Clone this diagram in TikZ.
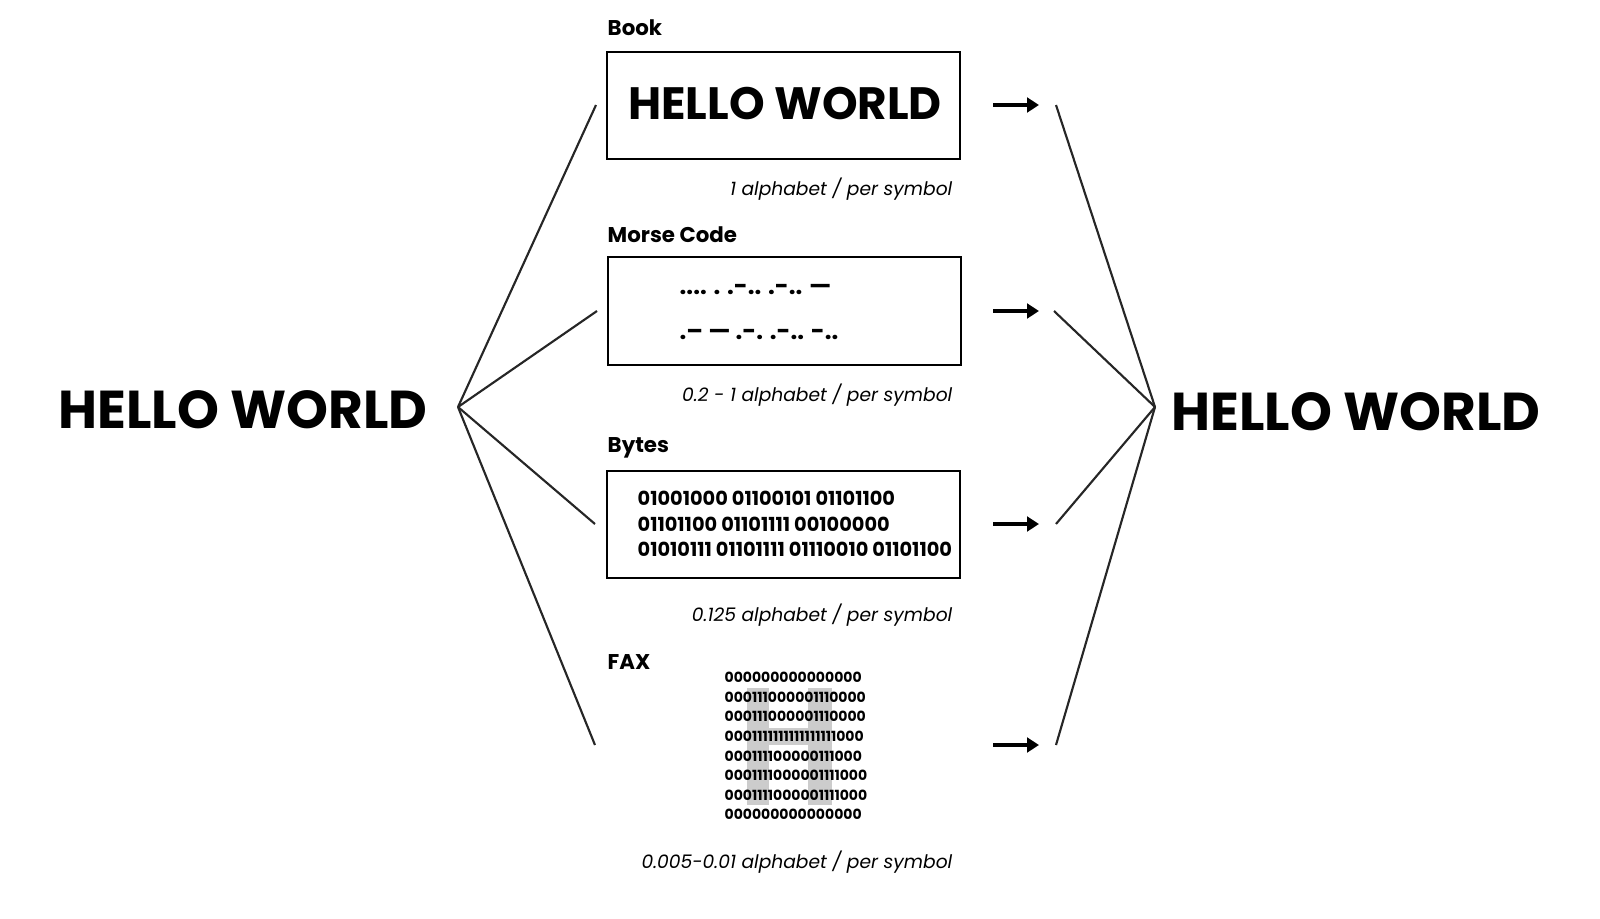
\documentclass[tikz,border=0pt]{standalone}
\usepackage{fontspec}
\setmainfont{Poppins}
\usetikzlibrary{arrows.meta}
\begin{document}
\begin{tikzpicture}[x=0.75pt,y=-0.75pt,
  box/.style={draw,line width=2.2pt},
  fan/.style={line width=1.6pt,draw=black!85},
  arr/.style={line width=3pt,-{Triangle[length=9pt,width=11pt]}},
  lab/.style={anchor=west,font=\fontsize{16}{18}\selectfont\bfseries},
  capt/.style={anchor=east,font=\fontsize{14}{16}\selectfont\itshape},
  big/.style={font=\fontsize{40}{44}\selectfont\bfseries}]
\useasboundingbox (0,0) rectangle (1600,918);
\node[big] (L) at (243,410) {HELLO WORLD};
\node[big] (R) at (1356,412) {HELLO WORLD};
\coordinate (hl) at (458,407);
\coordinate (hr) at (1155,407);
% boxes
\draw[box] (607,52) rectangle (960,159);
\node[font=\fontsize{34}{38}\selectfont\bfseries] (t1) at (785,104) {HELLO WORLD};
\draw[box] (608,257) rectangle (961,365);
\node[font=\fontsize{18}{20}\selectfont\bfseries,anchor=west] (t2a) at (675,290) {.... . .-.. .-.. ---};
\node[font=\fontsize{18}{20}\selectfont\bfseries,anchor=west] (t2b) at (675,335) {.-- --- .-. .-.. -..};
\draw[box] (607,471) rectangle (960,578);
\node[anchor=west,align=left,font=\fontsize{14.5}{19.2}\selectfont\bfseries] (t3) at (633,524) {01001000 01100101 01101100\\01101100 01101111 00100000\\01010111 01101111 01110010 01101100};
% fax
\fill[black!20] (747,688) rectangle (769,805);
\fill[black!20] (808,688) rectangle (832,805);
\fill[black!20] (769,728) rectangle (808,745);
\node[anchor=west,align=left,font=\fontsize{10.5}{14.7}\selectfont\bfseries] (t4) at (720,746) {000000000000000\\000111000001110000\\000111000001110000\\0001111111111111111000\\000111100000111000\\0001111000001111000\\0001111000001111000\\000000000000000};
% labels
\node[lab] at (603,28) {Book};
\node[lab] at (603,235) {Morse Code};
\node[lab] at (603,448) {Bytes};
\node[lab] at (603,662) {FAX};
\node[capt] at (957,189) {1 alphabet / per symbol};
\node[capt] at (957,395) {0.2 - 1 alphabet / per symbol};
\node[capt] at (957,615) {0.125 alphabet / per symbol};
\node[capt] at (957,862) {0.005-0.01 alphabet / per symbol};
% fans
\foreach \y/\xl/\xr [count=\i] in {105/596/1056,311/597/1054,524/595/1056,745/595/1056}{
  \coordinate (a\i) at (\xl,\y);
  \coordinate (b\i) at (\xr,\y);
  \coordinate (s\i) at (993,\y);
  \coordinate (e\i) at (1039,\y);
  \draw[fan] (hl) -- (a\i);
  \draw[fan] (hr) -- (b\i);
  \draw[arr] (s\i) -- (e\i);
}
\end{tikzpicture}
\end{document}
